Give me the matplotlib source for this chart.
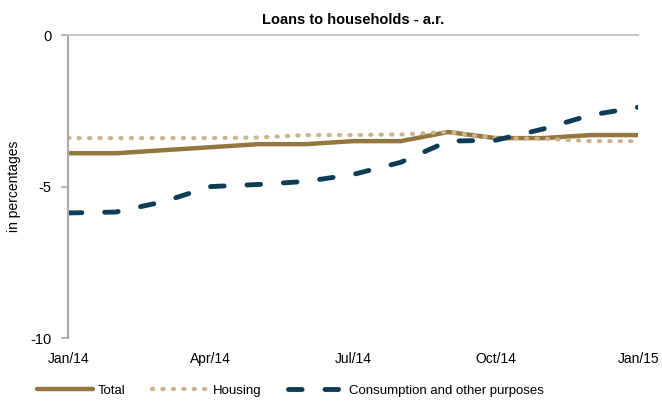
import matplotlib.pyplot as plt

plt.rcParams['font.family'] = ['Liberation Sans', 'DejaVu Sans']
plt.rcParams['axes.unicode_minus'] = False

months = list(range(13))
tick_pos = [0, 3, 6, 9, 12]
tick_labels = ['Jan/14', 'Apr/14', 'Jul/14', 'Oct/14', 'Jan/15']

total = [-3.9, -3.9, -3.8, -3.7, -3.6, -3.6, -3.5, -3.5, -3.2, -3.4, -3.4, -3.3, -3.3]
housing = [-3.4, -3.4, -3.4, -3.4, -3.38, -3.3, -3.3, -3.28, -3.2, -3.4, -3.42, -3.5, -3.5]
consumption = [-5.87, -5.84, -5.5, -5.0, -4.93, -4.83, -4.6, -4.2, -3.5, -3.47, -3.1, -2.64, -2.38]

fig = plt.figure(figsize=(6.62, 4.03), dpi=100)
ax = fig.add_axes([0.103, 0.161, 0.861, 0.752])

ax.plot(months, total, color='#94773f', lw=3.2, solid_capstyle='round', label='Total')
ax.plot(months, housing, color='#c9b48e', lw=3, linestyle=(0, (0.3, 2.2)),
        dash_capstyle='round', label='Housing')
ax.plot(months, consumption, color='#0d3c55', lw=3.5, linestyle=(0, (2.8, 4.7)),
        dash_capstyle='round', label='Consumption and other purposes')

ax.set_xlim(0, 12)
ax.set_ylim(-10, 0)
ax.set_yticks([0, -5, -10])
ax.set_xticks(tick_pos)
ax.set_xticklabels(tick_labels, fontsize=10)
ax.tick_params(axis='y', labelsize=10.5, color='#aaaaaa', length=5, width=1.2, pad=7)
ax.tick_params(axis='x', length=0, pad=10)

for s in ['right', 'bottom']:
    ax.spines[s].set_visible(False)
ax.spines['left'].set_color('#aaaaaa')
ax.spines['left'].set_linewidth(1.5)
ax.spines['top'].set_color('#c8c8c8')
ax.spines['top'].set_linewidth(1.5)

ax.set_ylabel('in percentages', fontsize=10, labelpad=7)
ax.set_title('Loans to households - a.r.', fontsize=10.5, fontweight='bold', pad=8)

ax.legend(loc='upper left', bbox_to_anchor=(-0.075, -0.115), ncol=3, frameon=False,
          fontsize=9.5, handlelength=4.2, columnspacing=2.0, handletextpad=0.4)

fig.savefig('out.png', dpi=100)
